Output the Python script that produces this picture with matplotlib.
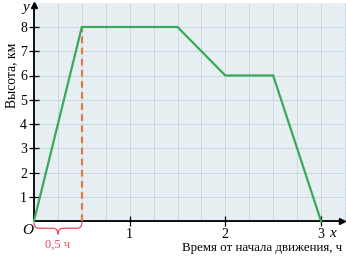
import matplotlib.pyplot as plt
from matplotlib.path import Path
from matplotlib.patches import PathPatch, Rectangle
import numpy as np

# данные графика: время (ч) и высота (км)
time_h = [0, 0.5, 1.5, 2, 2.5, 3]
height_km = [0, 8, 8, 6, 6, 0]
x_ticks = [1, 2, 3]
y_ticks = [1, 2, 3, 4, 5, 6, 7, 8]

SERIF = ['Liberation Serif', 'DejaVu Serif']
plt.rcParams['font.family'] = SERIF

fig = plt.figure(figsize=(3.46, 2.61), dpi=100)
ax = fig.add_axes([0, 0, 1, 1])

# границы подобраны так, чтобы начало координат было в нужном месте картинки
px_x = 95.67
px_y = 24.25
ax.set_xlim(-34 / px_x, (346 - 34) / px_x)
ax.set_ylim(-(261 - 221) / px_y, 221 / px_y)

# клетчатая бумага
x_right = (346 - 34) / px_x
y_top = (221 - 3) / px_y
ax.add_patch(Rectangle((-0.01, 0), x_right + 0.01, y_top, color='#e9f0f4', zorder=0, lw=0))
for xv in np.arange(0, x_right, 0.05):
    major = abs(xv / 0.25 - round(xv / 0.25)) < 1e-6
    ax.vlines(xv, 0, y_top, color='#c6d8e1' if major else '#e3eaef', lw=0.7 if major else 0.3, zorder=1)
for yv in np.arange(0, y_top, 0.2):
    major = abs(yv - round(yv)) < 1e-6
    ax.hlines(yv, 0, x_right, color='#c6d8e1' if major else '#e3eaef', lw=0.7 if major else 0.3, zorder=1)

# оси
for s in ['top', 'right']:
    ax.spines[s].set_visible(False)
ax.spines['left'].set_position(('data', 0))
ax.spines['bottom'].set_position(('data', 0))
ax.spines['left'].set_bounds(0, 8.85)
ax.spines['bottom'].set_bounds(0, 3.2)
ax.spines['left'].set_linewidth(1.3)
ax.spines['bottom'].set_linewidth(1.3)
ax.plot(3.22, 0, marker='>', color='black', ms=5, clip_on=False, zorder=5)
ax.plot(0, 8.9, marker='^', color='black', ms=5, clip_on=False, zorder=5)

ax.set_xticks(x_ticks)
ax.set_yticks(y_ticks)
ax.tick_params(direction='inout', length=7, width=0.9, labelsize=10, pad=1.5)

# график
ax.plot(time_h, height_km, color='#3aa95a', lw=1.6, zorder=4, solid_joinstyle='miter')
ax.plot([0.5, 0.5], [0, 8], color='#dd7a45', lw=1.6, ls=(0, (3, 2)), zorder=3)

# подписи осей
ax.text(-0.09, 8.8, 'y', fontsize=11, style='italic', ha='center', va='center')
ax.text(3.125, -0.5, 'x', fontsize=11, style='italic', ha='center', va='center')
ax.text(-0.065, -0.4, 'O', fontsize=11, style='italic', ha='center', va='center')
ax.text(-0.23, 6.0, 'Высота, км', fontsize=9.8, rotation=90, ha='center', va='center')
ax.text(3.22, -1.12, 'Время от начала движения, ч', fontsize=9.3, ha='right', va='center')

# фигурная скобка под отрезком 0..0,5
y0, ym, yt = -0.06, -0.3, -0.55
brace = Path([(0, y0), (0, ym), (0.05, ym), (0.2, ym), (0.25, ym), (0.25, yt),
              (0.25, ym), (0.3, ym), (0.45, ym), (0.5, ym), (0.5, y0)],
             [Path.MOVETO, Path.CURVE3, Path.CURVE3, Path.LINETO, Path.CURVE3, Path.CURVE3,
              Path.CURVE3, Path.CURVE3, Path.LINETO, Path.CURVE3, Path.CURVE3])
ax.add_patch(PathPatch(brace, fill=False, edgecolor='#ee4a5e', lw=0.9, clip_on=False, zorder=5))
ax.text(0.25, -0.97, '0,5 ч', fontsize=9, color='#ee4a5e', ha='center', va='center')

fig.savefig('out.png', dpi=100)
